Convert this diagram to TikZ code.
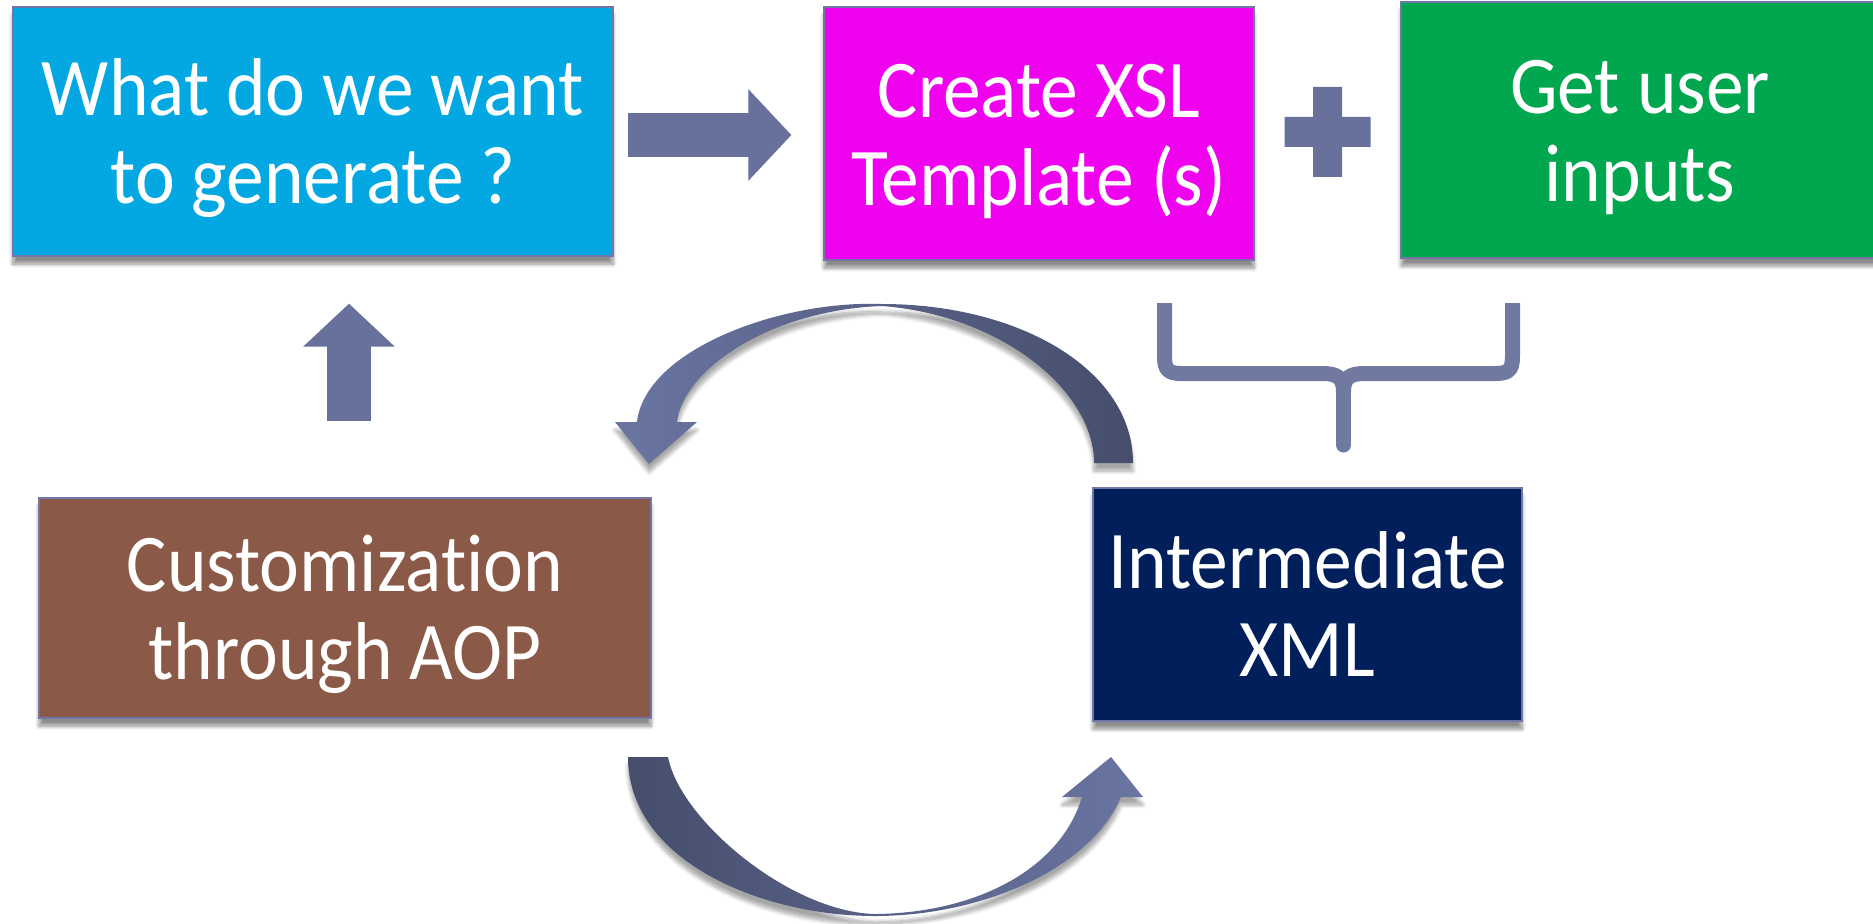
\documentclass[tikz,border=0pt]{standalone}
\usepackage{fontspec}
\setmainfont{Carlito}[FakeStretch=0.92,Ligatures=NoCommon]
\usetikzlibrary{arrows.meta,calc,positioning,shadows.blur}
\definecolor{whatblue}{RGB}{3,167,226}
\definecolor{xslmag}{RGB}{239,3,238}
\definecolor{inpgreen}{RGB}{0,167,79}
\definecolor{custbrown}{RGB}{139,89,71}
\definecolor{xmlnavy}{RGB}{1,31,91}
\definecolor{edgecol}{RGB}{112,118,165}
\definecolor{arrowmid}{RGB}{103,113,155}
\definecolor{arrowlight}{RGB}{106,117,162}
\definecolor{arrowdark}{RGB}{70,78,108}
\definecolor{bracecol}{RGB}{112,121,160}
\newcommand{\hstrut}{\rule{0pt}{35.5pt}}
\newcommand{\dstrut}{\rule[-8pt]{0pt}{8pt}}

\begin{document}
\begin{tikzpicture}[x=0.5pt,y=-0.5pt,
box/.style={rectangle,draw=edgecol,line width=0.6pt,fill=#1,text=white,
  align=center,inner sep=4pt,font=\fontsize{41}{44}\selectfont,
  blur shadow={shadow xshift=0pt,shadow yshift=-4pt,shadow blur steps=8,shadow opacity=45}},
fat/.style={draw=arrowmid,line width=22pt,-{Triangle[length=21.5pt,width=44.5pt]}},
brace/.style={draw=bracecol,line width=7.5pt,line join=round},
curvearrow/.style={blur shadow={shadow xshift=0pt,shadow yshift=-4pt,shadow blur steps=8,shadow opacity=35}}]
\useasboundingbox (0,0) rectangle (1873,923);
\node[box=whatblue,minimum width=300pt,minimum height=124.5pt] (what) at (313,131.5) {\hstrut What do we want\\to generate ?\dstrut};
\node[box=xslmag,minimum width=215pt,minimum height=126.5pt] (xsl) at (1039,133.5) {\hstrut Create XSL\\Template (s)\dstrut};
\node[box=inpgreen,minimum width=239pt,minimum height=128pt] (inp) at (1640,130) {\hstrut Get user\\inputs\dstrut};
\node[box=custbrown,minimum width=306pt,minimum height=110pt] (cust) at (345,608) {\hstrut Customization\\through AOP\dstrut};
\node[box=xmlnavy,minimum width=214.5pt,minimum height=116.5pt] (xml) at (1307.5,604.5) {\hstrut Intermediate\\XML\dstrut};
\draw[fat,shorten <=7pt,shorten >=16pt] ([yshift=-1.75pt]what.east) -- ([yshift=-1.75pt]what.east -| xsl.west);
\draw[fat,shorten <=38pt,shorten >=23.5pt] ([xshift=2pt]cust.north) -- ([xshift=2pt]cust.north |- what.south);
\coordinate (plus) at ($(xsl.east)!.5!(inp.west)$);
\fill[arrowmid] (plus) +(-43,-15) rectangle +(43,15) (plus) +(-14.5,-45) rectangle +(14.5,45);
\draw[brace] (1164.5,303) -- (1164.5,356) .. controls (1164.5,370) and (1168,373.5) .. (1182,373.5) -- (1322,373.5) .. controls (1338,373.5) and (1343.5,378) .. (1343.5,392);
\draw[brace] (1512.5,303) -- (1512.5,356) .. controls (1512.5,370) and (1509,373.5) .. (1495,373.5) -- (1365,373.5) .. controls (1349,373.5) and (1343.5,378) .. (1343.5,392);
\draw[brace,line cap=round] (1343.5,388) -- (1343.5,445);
\path[curvearrow,left color=arrowlight,right color=arrowdark] (1094,463) -- (1133,463) .. controls (1133,370) and (1020,304) .. (882,304) .. controls (780,300) and (645,350) .. (637,422) -- (615,422) -- (649,464) -- (697,422) -- (677,422) .. controls (683,370) and (770,310) .. (882,306) .. controls (1000,315) and (1094,390) .. (1094,463) -- cycle;
\path[curvearrow,left color=arrowdark,right color=arrowlight] (628,757) -- (668,757) .. controls (680,820) and (790,912) .. (875,914) .. controls (975,913) and (1060,870) .. (1082,797) -- (1062,797) -- (1111,757) -- (1143,797) -- (1121,797) .. controls (1090,870) and (980,916) .. (875,916) .. controls (760,916) and (628,860) .. (628,757) -- cycle;
\end{tikzpicture}
\end{document}
